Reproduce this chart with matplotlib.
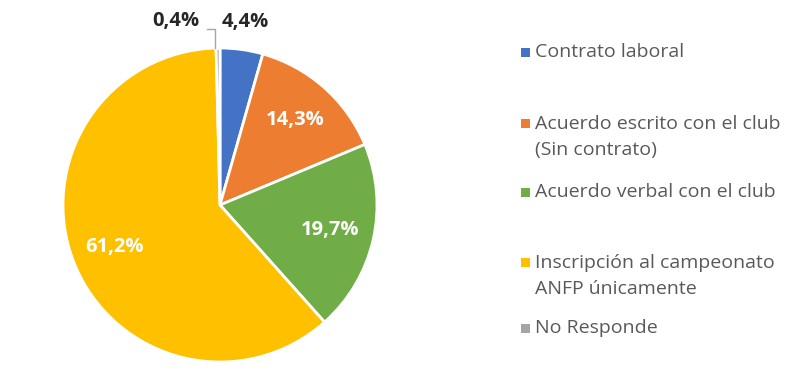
import numpy as np
import matplotlib
matplotlib.use('Agg')
import matplotlib.pyplot as plt
from matplotlib.patches import Rectangle

categories = ['Contrato laboral',
              'Acuerdo escrito con el club\n(Sin contrato)',
              'Acuerdo verbal con el club',
              'Inscripción al campeonato\nANFP únicamente',
              'No Responde']
values = [4.4, 14.3, 19.7, 61.2, 0.4]
colors = ['#4472C4', '#ED7D31', '#70AD47', '#FFC000', '#A5A5A5']

plt.rcParams['font.family'] = ['Open Sans', 'DejaVu Sans']

fig = plt.figure(figsize=(8, 3.79), dpi=100)
W, H = 800, 379
cx, cy, r = 220, 379 - 205, 157
ax = fig.add_axes([(cx - r) / W, (cy - r) / H, 2 * r / W, 2 * r / H])

wedges, _ = ax.pie(values, colors=colors, startangle=90, counterclock=False,
                   wedgeprops=dict(edgecolor='white', linewidth=2))
ax.set_xlim(-1, 1)
ax.set_ylim(-1, 1)
ax.set_aspect('equal')
ax.axis('off')

def fmt(v):
    return ('%.1f%%' % v).replace('.', ',')

for w, v in zip(wedges, values):
    ang = np.deg2rad((w.theta1 + w.theta2) / 2)
    if v >= 10:
        d = 0.72
        ax.text(d * np.cos(ang), d * np.sin(ang), fmt(v), ha='center', va='center',
                color='white', fontsize=14.5, fontweight='bold')
    elif v > 1:
        d = 1.18
        ax.text(d * np.cos(ang), d * np.sin(ang), fmt(v), ha='center', va='center',
                color='#262626', fontsize=14.5, fontweight='bold')
    else:
        tx, ty = -0.28, 1.17
        ax.text(tx, ty, fmt(v), ha='center', va='center',
                color='#262626', fontsize=14.5, fontweight='bold', clip_on=False)
        ax.plot([-0.08, -0.035, -0.035], [1.12, 1.12, 1.0], color='#A6A6A6',
                linewidth=1, clip_on=False)

# legend
leg_y = [52, 137, 192, 276, 328]
for lab, col, y in zip(categories, colors, leg_y):
    ly = y - 14 if '\n' in lab else y
    fig.patches.append(Rectangle((521 / W, (H - ly - 5) / H), 9 / W, 9 / H,
                                 transform=fig.transFigure, facecolor=col,
                                 edgecolor='none'))
    fig.text(535 / W, (H - y) / H, lab, ha='left', va='center', fontsize=14,
             color='#595959', linespacing=1.6)

fig.savefig('out.png', dpi=100)
